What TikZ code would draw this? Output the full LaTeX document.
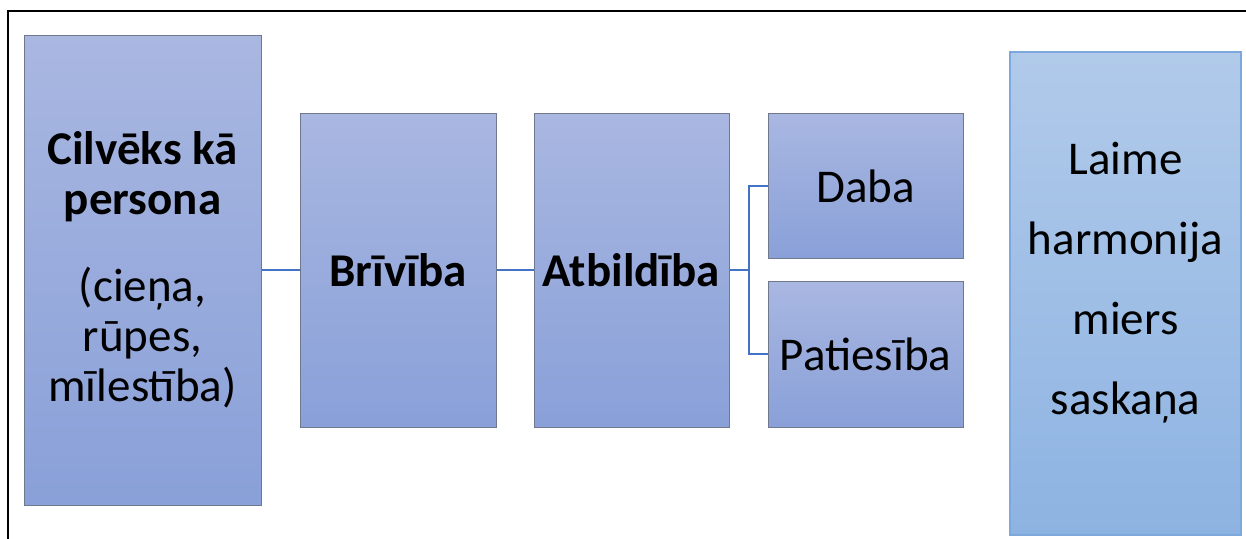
\documentclass[tikz,border=0pt]{standalone}
\usepackage{fontspec}
\setmainfont{Carlito}
\usepackage{xcolor}
\usepackage{tikz}

\definecolor{boxtop}{RGB}{169,183,225}
\definecolor{boxbot}{RGB}{137,160,216}
\definecolor{boxline}{RGB}{112,120,142}
\definecolor{goaltop}{RGB}{177,202,234}
\definecolor{goalbot}{RGB}{141,179,226}
\definecolor{goalline}{RGB}{124,168,220}
\definecolor{linkblue}{RGB}{68,114,196}

\begin{document}
\begin{tikzpicture}[x=0.5pt,y=-0.5pt,
    bluebox/.style={draw=boxline, line width=0.5pt, top color=boxtop, bottom color=boxbot,
      inner sep=0pt, font=\fontsize{23.5}{25}\selectfont},
    goalbox/.style={draw=goalline, line width=1pt, top color=goaltop, bottom color=goalbot,
      inner sep=0pt},
    link/.style={draw=linkblue, line width=1pt}]

    \useasboundingbox (0,0) rectangle (1246,539);
    % frame
    \draw [black, line width=1pt] (8,539) -- (8,11) -- (1246,11);

    % boxes
    \node [bluebox, minimum width=118.5pt, minimum height=235pt] (cilveks) at (142.5,270.5) {};
    \node [bluebox, minimum width=98pt, minimum height=156.5pt] (briviba) at (398,270.5) {\textbf{Brīvība}};
    \node [bluebox, minimum width=97.5pt, minimum height=156.5pt] (atbildiba) at (631.5,270.5) {\textbf{Atbildība}};
    \node [bluebox, minimum width=97.5pt, minimum height=72.5pt] (daba) at (865.5,186.5) {Daba};
    \node [bluebox, minimum width=97.5pt, minimum height=72.5pt] (patiesiba) at (865.5,354.5) {Patiesība};
    \node [goalbox, minimum width=115.5pt, minimum height=241.5pt] (laime) at (1125.5,293.5) {};

    % label
    \node [align=center, font=\fontsize{23.5}{25}\selectfont] (cilvekstext) at (142.5,270)
      {\textbf{Cilvēks kā}\\\textbf{persona}\\[18.5pt](cieņa,\\rūpes,\\mīlestība)};
    \node [align=center, font=\fontsize{23.5}{40}\selectfont] (laimetext) at (1125.5,283)
      {Laime\\harmonija\\miers\\saskaņa};

    % links
    \coordinate (fork) at (749,270.5);
    \draw [link] (cilveks.east) -- (briviba.west);
    \draw [link] (briviba.east) -- (atbildiba.west);
    \draw [link] (atbildiba.east) -- (fork);
    \draw [link] (fork) |- (daba.west);
    \draw [link] (fork) |- (patiesiba.west);
\end{tikzpicture}
\end{document}
